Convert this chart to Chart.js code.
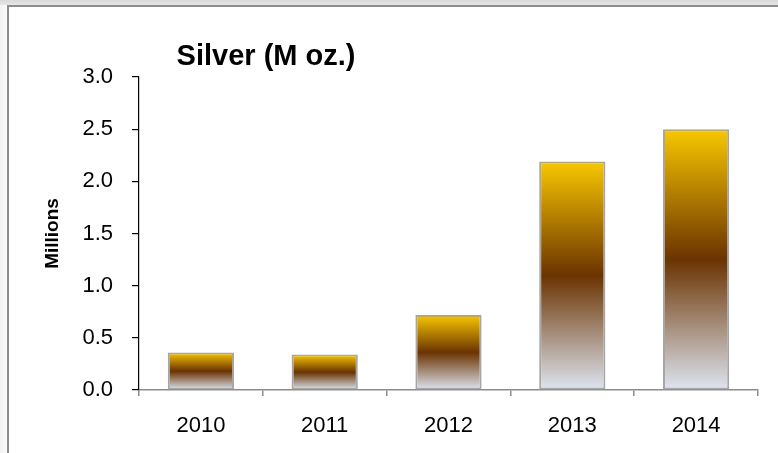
<!DOCTYPE html>
<html>
<head>
<meta charset="utf-8">
<script src="https://cdn.jsdelivr.net/npm/chart.js@4.4.0/dist/chart.umd.min.js"></script>
<style>
  html, body { margin: 0; padding: 0; background: #ffffff; }
  #wrap { position: relative; width: 778px; height: 453px; overflow: hidden; background: #fff; }
  #topband { position: absolute; left: 0; top: 0; width: 778px; height: 5px;
    background: linear-gradient(to bottom, #d9d9d9, #e6e6e6); }
  #leftband { position: absolute; left: 0; top: 5px; width: 7px; height: 448px;
    background: linear-gradient(to right, #f2f2f2, #fbfbfb); }
  #frame { position: absolute; left: 7px; top: 5px; width: 771px; height: 448px;
    border-top: 2px solid #8c8c8c; border-left: 2px solid #8c8c8c; box-sizing: border-box; }
  canvas { position: absolute; left: 0; top: 0; }
</style>
</head>
<body>
<div id="wrap">
  <div id="topband"></div>
  <div id="leftband"></div>
  <div id="frame"></div>
  <canvas id="c" width="778" height="453"></canvas>
</div>
<script>
const categories = ['2010', '2011', '2012', '2013', '2014'];
const silverValues = [0.36, 0.34, 0.72, 2.19, 2.50];
const yTickValues = [0.0, 0.5, 1.0, 1.5, 2.0, 2.5, 3.0];
const chartTitle = 'Silver (M oz.)';
const yAxisTitle = 'Millions';

const FONT = "'Liberation Sans', Arial, sans-serif";

function barGradient(c) {
  const chart = c.chart;
  if (!chart.chartArea || c.type !== 'data') return '#a87a10';
  const ys = chart.scales.y;
  const top = ys.getPixelForValue(c.raw);
  const bot = ys.getPixelForValue(0);
  if (!isFinite(top) || !isFinite(bot) || top === bot) return '#a87a10';
  const g = chart.ctx.createLinearGradient(0, top, 0, bot);
  g.addColorStop(0, '#F8C800');
  g.addColorStop(0.5, '#6B3300');
  g.addColorStop(1, '#DEE5F1');
  return g;
}

const titlePlugin = {
  id: 'customTitle',
  afterDraw(chart) {
    const ctx = chart.ctx;
    ctx.save();
    ctx.font = "bold 29px " + FONT;
    ctx.fillStyle = '#000';
    ctx.textAlign = 'center';
    ctx.textBaseline = 'alphabetic';
    ctx.fillText(chartTitle, 266, 65);
    ctx.restore();
  }
};

new Chart(document.getElementById('c'), {
  type: 'bar',
  data: {
    labels: categories,
    datasets: [{
      data: silverValues,
      backgroundColor: barGradient,
      borderColor: '#A6A6A6',
      borderWidth: 2,
      borderSkipped: false,
      barPercentage: 0.535,
      categoryPercentage: 1.0
    }]
  },
  options: {
    responsive: false,
    animation: false,
    events: [],
    layout: { padding: { left: 41, top: 77, right: 20, bottom: 0 } },
    plugins: {
      legend: { display: false },
      title: { display: false },
      tooltip: { enabled: false }
    },
    scales: {
      x: {
        grid: { display: true, drawOnChartArea: false, drawTicks: true, tickLength: 6, color: '#8c8c8c', lineWidth: 1.5, offset: true },
        border: { display: true, color: '#8c8c8c', width: 1.5 },
        ticks: { color: '#000', font: { family: FONT, size: 22 }, padding: 17, maxRotation: 0 },
        afterFit(scale) { scale.height = 63; }
      },
      y: {
        min: 0, max: 3,
        afterBuildTicks(scale) { scale.ticks = yTickValues.map(v => ({ value: v })); },
        grid: { display: true, drawOnChartArea: false, drawTicks: true, tickLength: 7, color: '#000', lineWidth: 1.2 },
        border: { display: true, color: '#000', width: 1.2 },
        ticks: { color: '#000', font: { family: FONT, size: 22 }, padding: 19,
          callback: (v) => Number(v).toFixed(1) },
        title: { display: true, text: yAxisTitle, color: '#000',
          font: { family: FONT, size: 19, weight: 'bold' }, padding: { top: 0, bottom: 0 } },
        afterFit(scale) { scale.width = 98; }
      }
    }
  },
  plugins: [titlePlugin]
});
</script>
</body>
</html>
